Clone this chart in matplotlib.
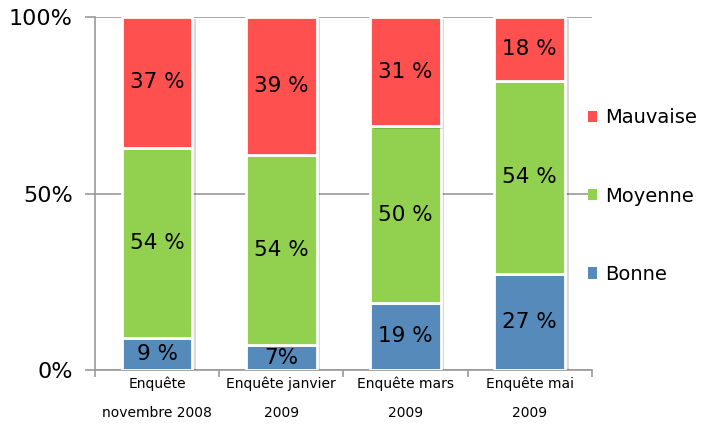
import matplotlib

matplotlib.use("Agg")
import matplotlib.pyplot as plt
import matplotlib.patheffects as pe
from matplotlib.patches import Patch
import numpy as np

categories = ["Enquête\nnovembre 2008", "Enquête janvier\n2009", "Enquête mars\n2009", "Enquête mai\n2009"]
bonne = [9, 7, 19, 27]
moyenne = [54, 54, 50, 54]
mauvaise = [37, 39, 31, 18]
labels_bonne = ["9 %", "7%", "19 %", "27 %"]
labels_moyenne = ["54 %", "54 %", "50 %", "54 %"]
labels_mauvaise = ["37 %", "39 %", "31 %", "18 %"]

RED = "#FF5050"
GREEN = "#92D050"
BLUE = "#558ABB"
GRID = "#9a9a9a"

plt.rcParams["font.family"] = ["DejaVu Sans"]

fig = plt.figure(figsize=(7.03, 4.32), dpi=100)
ax = fig.add_axes([0.135, 0.1435, 0.707, 0.8171])

# 100 % empilé : normalisation par le total de chaque enquête
tot = np.array(bonne) + np.array(moyenne) + np.array(mauvaise)
b = np.array(bonne) / tot * 100
m = np.array(moyenne) / tot * 100
r = np.array(mauvaise) / tot * 100
x = np.arange(len(categories))
w = 0.57

shadow = [pe.SimplePatchShadow(offset=(2.5, -1.5), shadow_rgbFace="#000000", alpha=0.15), pe.Normal()]
series = [
    (b, np.zeros_like(b), BLUE, labels_bonne, "Bonne"),
    (m, b, GREEN, labels_moyenne, "Moyenne"),
    (r, b + m, RED, labels_mauvaise, "Mauvaise"),
]
for vals, bottom, col, labs, name in series:
    bars = ax.bar(x, vals, w, bottom=bottom, color=col, edgecolor="white", linewidth=2, zorder=3)
    for bar in bars:
        bar.set_path_effects(shadow)
    for xi, v, bt, lab in zip(x, vals, bottom, labs):
        ax.text(xi, bt + v / 2, lab, ha="center", va="center", fontsize=15.5, color="black", zorder=4)

ax.set_xlim(-0.5, len(categories) - 0.5)
ax.set_ylim(0, 100)
ax.set_yticks([0, 50, 100])
ax.set_yticklabels(["0%", "50%", "100%"], fontsize=16)
ax.yaxis.grid(True, color=GRID, linewidth=1.2, zorder=0)
ax.tick_params(axis="y", length=7, width=1.2, color=GRID, pad=9)

ax.set_xticks(x)
ax.set_xticklabels(categories, fontsize=10, linespacing=2.3)
ax.set_xticks(np.arange(-0.5, len(categories)), minor=True)
ax.tick_params(axis="x", which="major", length=0, pad=5)
ax.tick_params(axis="x", which="minor", length=5, width=1.2, color=GRID)

for s in ["top", "right"]:
    ax.spines[s].set_visible(False)
for s in ["left", "bottom"]:
    ax.spines[s].set_color(GRID)
    ax.spines[s].set_linewidth(1.2)

handles = [Patch(facecolor=RED, label="Mauvaise"),
           Patch(facecolor=GREEN, label="Moyenne"),
           Patch(facecolor=BLUE, label="Bonne")]
fig.legend(handles=handles, loc="center left", bbox_to_anchor=(0.836, 0.546), frameon=False,
           fontsize=14, handlelength=0.5, handleheight=0.5, handletextpad=0.4, labelspacing=3.05,
           borderaxespad=0, borderpad=0)

fig.savefig("out.png", dpi=100)
